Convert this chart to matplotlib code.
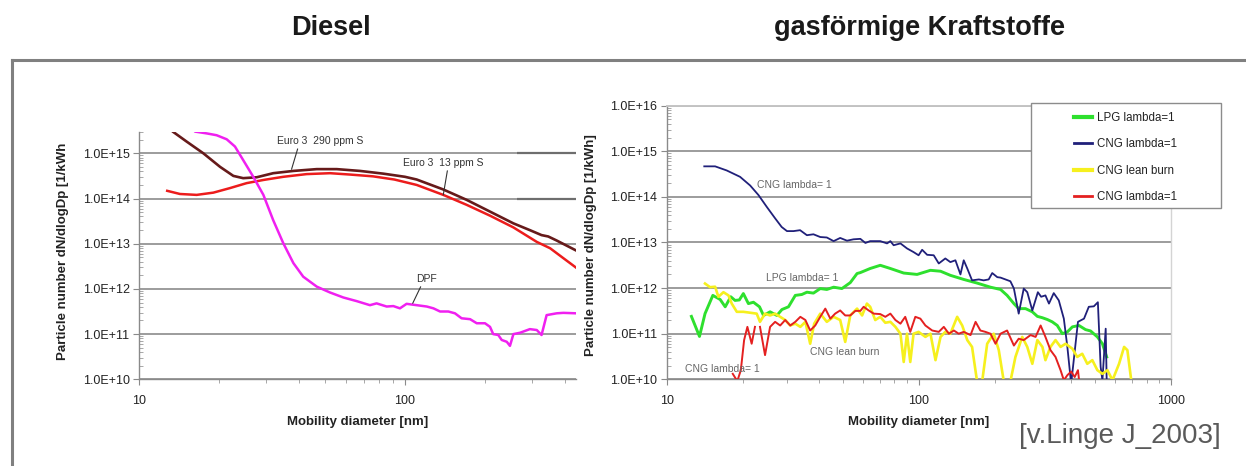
import numpy as np
import matplotlib
matplotlib.use('Agg')
import matplotlib.pyplot as plt
from matplotlib.lines import Line2D
from matplotlib.patches import Rectangle
from matplotlib.ticker import LogLocator, NullFormatter, FuncFormatter, FixedLocator

plt.rcParams['font.family'] = ['Liberation Sans', 'DejaVu Sans']

# --- Diesel: log10(diameter [nm]) and log10(dN/dlogDp [1/kWh]) ---
euro290_logd = np.array([1.110, 1.126, 1.178, 1.241, 1.304, 1.354, 1.391, 1.442, 1.504, 1.580,
                         1.668, 1.743, 1.831, 1.918, 2.000, 2.044, 2.144, 2.232, 2.320, 2.408,
                         2.470, 2.514, 2.539, 2.571, 2.644])
euro290_logn = np.array([15.58, 15.48, 15.26, 15.00, 14.70, 14.50, 14.45, 14.47, 14.56, 14.61,
                         14.65, 14.65, 14.61, 14.55, 14.48, 14.42, 14.20, 13.97, 13.71, 13.45,
                         13.30, 13.19, 13.16, 13.07, 12.85])

euro13_logd = np.array([1.105, 1.153, 1.216, 1.279, 1.341, 1.404, 1.467, 1.542, 1.630, 1.718,
                        1.793, 1.880, 1.960, 2.044, 2.144, 2.232, 2.320, 2.408, 2.496, 2.546,
                        2.596, 2.644])
euro13_logn = np.array([14.17, 14.10, 14.08, 14.13, 14.23, 14.34, 14.41, 14.48, 14.54, 14.56,
                        14.53, 14.49, 14.42, 14.30, 14.08, 13.86, 13.62, 13.36, 13.04, 12.90,
                        12.68, 12.47])

dpf_logd = np.array([1.190, 1.210, 1.254, 1.291, 1.329, 1.360, 1.391, 1.429, 1.467, 1.504,
                     1.542, 1.580, 1.617, 1.668, 1.718, 1.768, 1.818, 1.868, 1.893, 1.931,
                     1.956, 1.981, 2.006, 2.044, 2.082, 2.107, 2.132, 2.163, 2.188, 2.213,
                     2.245, 2.270, 2.301, 2.320, 2.332, 2.351, 2.364, 2.383, 2.395, 2.408,
                     2.433, 2.470, 2.496, 2.514, 2.533, 2.571, 2.596, 2.644])
dpf_logn = np.array([15.60, 15.48, 15.44, 15.40, 15.31, 15.15, 14.85, 14.48, 14.08, 13.52,
                     13.01, 12.57, 12.27, 12.05, 11.92, 11.81, 11.73, 11.64, 11.68, 11.61,
                     11.62, 11.57, 11.67, 11.64, 11.61, 11.57, 11.50, 11.50, 11.46, 11.35,
                     11.33, 11.24, 11.24, 11.16, 11.00, 10.98, 10.87, 10.83, 10.74, 11.00,
                     11.03, 11.11, 11.09, 10.98, 11.42, 11.46, 11.47, 11.46])

# --- gaseous fuels ---
lpg_logd = np.array([1.098, 1.130, 1.152, 1.183, 1.212, 1.232, 1.254, 1.271, 1.288, 1.304,
                     1.324, 1.344, 1.368, 1.384, 1.410, 1.437, 1.457, 1.483, 1.510, 1.536,
                     1.556, 1.582, 1.609, 1.635, 1.662, 1.695, 1.728, 1.755, 1.768, 1.807,
                     1.847, 1.887, 1.940, 1.993, 2.046, 2.086, 2.125, 2.178, 2.231, 2.284,
                     2.324, 2.350, 2.377, 2.396, 2.423, 2.450, 2.470, 2.490, 2.510, 2.529,
                     2.549, 2.569, 2.589, 2.609, 2.635, 2.661, 2.681, 2.708, 2.728, 2.745])
lpg_logn = np.array([11.38, 10.94, 11.44, 11.84, 11.75, 11.59, 11.81, 11.73, 11.74, 11.88,
                     11.66, 11.69, 11.59, 11.40, 11.48, 11.40, 11.53, 11.59, 11.84, 11.86,
                     11.91, 11.89, 11.99, 11.97, 12.02, 11.99, 12.12, 12.32, 12.34, 12.43,
                     12.50, 12.43, 12.33, 12.30, 12.39, 12.37, 12.28, 12.19, 12.11, 12.02,
                     11.97, 11.84, 11.66, 11.55, 11.55, 11.48, 11.38, 11.35, 11.31, 11.26,
                     11.18, 11.00, 11.04, 11.15, 11.18, 11.09, 11.06, 10.93, 10.78, 10.49])

cng_logd = np.array([1.149, 1.192, 1.238, 1.291, 1.331, 1.364, 1.397, 1.430, 1.456, 1.477,
                     1.503, 1.529, 1.556, 1.582, 1.609, 1.635, 1.662, 1.688, 1.715, 1.741,
                     1.768, 1.788, 1.807, 1.847, 1.874, 1.887, 1.900, 1.927, 1.953, 1.979,
                     1.999, 2.013, 2.033, 2.059, 2.079, 2.105, 2.125, 2.145, 2.165, 2.178,
                     2.192, 2.211, 2.238, 2.257, 2.277, 2.291, 2.311, 2.324, 2.363, 2.377,
                     2.396, 2.416, 2.430, 2.450, 2.472, 2.485, 2.502, 2.516, 2.535, 2.555,
                     2.575, 2.589, 2.604, 2.631, 2.655, 2.674, 2.694, 2.710, 2.721, 2.728,
                     2.741, 2.745])
cng_logn = np.array([14.67, 14.67, 14.58, 14.44, 14.25, 14.04, 13.78, 13.53, 13.34, 13.25,
                     13.25, 13.27, 13.16, 13.18, 13.12, 13.11, 13.03, 13.10, 13.04, 13.07,
                     13.08, 12.99, 13.03, 13.03, 12.98, 13.03, 12.94, 12.98, 12.87, 12.79,
                     12.72, 12.84, 12.73, 12.72, 12.54, 12.65, 12.57, 12.61, 12.30, 12.61,
                     12.43, 12.17, 12.19, 12.17, 12.19, 12.33, 12.24, 12.23, 12.15, 11.99,
                     11.44, 11.99, 11.91, 11.51, 11.91, 11.81, 11.84, 11.66, 11.89, 11.73,
                     11.33, 10.71, 9.90, 11.26, 11.33, 11.59, 11.60, 11.69, 10.27, 9.98,
                     11.11, 9.95])

lean_logd = np.array([1.152, 1.172, 1.192, 1.205, 1.225, 1.245, 1.258, 1.278, 1.304, 1.331,
                      1.357, 1.370, 1.390, 1.410, 1.430, 1.450, 1.470, 1.490, 1.510, 1.530,
                      1.550, 1.569, 1.585, 1.609, 1.635, 1.662, 1.688, 1.708, 1.728, 1.755,
                      1.775, 1.794, 1.807, 1.827, 1.847, 1.867, 1.887, 1.907, 1.927, 1.940,
                      1.953, 1.966, 1.979, 1.999, 2.026, 2.046, 2.066, 2.086, 2.105, 2.125,
                      2.152, 2.172, 2.192, 2.211, 2.231, 2.251, 2.271, 2.297, 2.317, 2.337,
                      2.363, 2.383, 2.410, 2.430, 2.450, 2.470, 2.490, 2.502, 2.522, 2.542,
                      2.562, 2.582, 2.609, 2.628, 2.648, 2.668, 2.688, 2.708, 2.728, 2.748,
                      2.768, 2.794, 2.814, 2.827, 2.843])
lean_logn = np.array([12.10, 12.02, 12.03, 11.81, 11.91, 11.84, 11.66, 11.48, 11.48, 11.46,
                      11.44, 11.26, 11.44, 11.40, 11.44, 11.37, 11.30, 11.18, 11.22, 11.15,
                      11.26, 10.78, 11.22, 11.44, 11.26, 11.37, 11.30, 10.82, 11.40, 11.55,
                      11.40, 11.66, 11.59, 11.30, 11.37, 11.24, 11.26, 11.15, 11.00, 10.38,
                      11.00, 10.38, 11.00, 11.04, 10.93, 11.00, 10.42, 10.93, 11.04, 11.00,
                      11.37, 11.18, 10.86, 10.71, 9.95, 9.95, 10.78, 11.00, 10.64, 9.95,
                      9.95, 10.49, 10.93, 10.71, 10.34, 10.86, 10.71, 10.42, 10.71, 10.86,
                      10.71, 10.78, 10.67, 10.49, 10.56, 10.34, 10.42, 10.20, 10.12, 10.20,
                      9.98, 10.34, 10.71, 10.64, 9.95])

# nan = gap in the measurement
cngr_logd = np.array([1.262, 1.280, 1.294, 1.307, 1.320, 1.337, 1.350, 1.360, 1.370, 1.390,
                      1.410, 1.430, 1.450, 1.470, 1.490, 1.510, 1.530, 1.550, 1.569, 1.589,
                      1.609, 1.629, 1.649, 1.668, 1.688, 1.708, 1.728, 1.748, 1.768, 1.781,
                      1.801, 1.821, 1.847, 1.867, 1.887, 1.907, 1.927, 1.946, 1.966, 1.986,
                      2.006, 2.026, 2.053, 2.079, 2.099, 2.119, 2.139, 2.158, 2.178, 2.205,
                      2.225, 2.244, 2.264, 2.284, 2.304, 2.324, 2.350, 2.377, 2.396, 2.416,
                      2.443, 2.463, 2.483, 2.502, 2.522, 2.542, 2.562, 2.575, 2.589, 2.604,
                      2.618, 2.631, 2.636])
cngr_logn = np.array([10.12, 9.96, 10.20, 10.86, 11.15, 10.78, 11.15, np.nan, 11.15, 10.53,
                      11.15, 11.26, 11.18, 11.30, 11.18, 11.26, 11.37, 11.30, 11.07, 11.18,
                      11.37, 11.55, 11.33, 11.44, 11.51, 11.40, 11.40, 11.50, 11.50, 11.59,
                      11.51, 11.44, 11.43, 11.37, 11.44, 11.30, 11.22, 11.37, 11.04, 11.37,
                      11.33, 11.18, 11.07, 11.04, 11.15, 11.00, 11.07, 11.00, 11.04, 10.97,
                      11.26, 11.07, 11.04, 11.00, 10.78, 11.00, 11.07, 10.74, 10.89, 10.86,
                      10.97, 10.93, 11.18, 10.93, 10.64, 10.49, 10.20, 9.98, 10.09, 10.17,
                      10.05, 10.20, 9.95])

legend_labels = ['LPG lambda=1', 'CNG lambda=1', 'CNG lean burn', 'CNG lambda=1']

W, H = 1246, 466
def fx(px):
    return px / W
def fy(py):
    return 1 - py / H

fig = plt.figure(figsize=(W / 100, H / 100), dpi=100)

# slide frame and headings
fig.add_artist(Line2D([fx(12), 1], [fy(60), fy(60)], color='#808080', lw=2.2))
fig.add_artist(Line2D([fx(12), fx(12)], [0, fy(60)], color='#808080', lw=2.2))
fig.text(fx(331), fy(28), 'Diesel', ha='center', va='center', fontsize=19.5,
         fontweight='bold', color='#1a1a1a')
fig.text(fx(920), fy(28), 'gasförmige Kraftstoffe', ha='center', va='center',
         fontsize=19.5, fontweight='bold', color='#1a1a1a')
fig.text(fx(1120), fy(436), '[v.Linge J_2003]', ha='center', va='center',
         fontsize=20, color='#5a5a5a')


def sci(v, pos):
    return f'{v:.1E}'


def style_axis(ax, xmax, ymax_exp):
    ax.set_xscale('log')
    ax.set_yscale('log')
    ax.set_axisbelow(True)
    ax.yaxis.set_major_locator(FixedLocator([10.0 ** e for e in range(10, ymax_exp + 1)]))
    ax.yaxis.set_major_formatter(FuncFormatter(sci))
    ax.yaxis.set_minor_locator(LogLocator(base=10, subs=np.arange(2, 10), numticks=20))
    ax.yaxis.set_minor_formatter(NullFormatter())
    ax.xaxis.set_major_locator(FixedLocator([t for t in (10, 100, 1000) if t <= xmax]))
    ax.xaxis.set_major_formatter(FuncFormatter(lambda v, p: f'{v:.0f}'))
    ax.xaxis.set_minor_locator(LogLocator(base=10, subs=np.arange(2, 10), numticks=20))
    ax.xaxis.set_minor_formatter(NullFormatter())
    ax.grid(True, axis='y', which='major', color='#9c9c9c', lw=1.4)
    for s in ('left', 'bottom'):
        ax.spines[s].set_color('#8a8a8a')
        ax.spines[s].set_linewidth(1.0)
    ax.tick_params(axis='both', which='major', labelsize=9, colors='#8a8a8a',
                   labelcolor='#222222', length=4, width=0.8, pad=3)
    ax.tick_params(axis='x', which='major', pad=7)
    ax.tick_params(axis='y', which='minor', direction='in', length=3, width=0.6, colors='#9a9a9a')
    ax.tick_params(axis='x', which='minor', direction='out', length=3, width=0.6, colors='#9a9a9a')
    ax.set_xlabel('Mobility diameter [nm]', fontsize=9.5, fontweight='bold',
                  color='#222222', labelpad=7)


# ---------------- Diesel ----------------
ax1 = fig.add_axes([fx(139.3), fy(379.3), (576 - 139.3) / W, (379.3 - 131.7) / H])
style_axis(ax1, 440, 15)
ax1.set_xlim(10, 10 ** 2.6436)
ax1.set_ylim(1e10, 10 ** 15.478)
ax1.spines['top'].set_visible(False)
ax1.spines['right'].set_visible(False)
ax1.hlines([1e15, 1e14], 264, 10 ** 2.6436, color='#6e6e6e', lw=1.6, zorder=1)

ax1.plot(10 ** euro290_logd, 10 ** euro290_logn, color='#661a1a', lw=1.9, zorder=3)
ax1.plot(10 ** euro13_logd, 10 ** euro13_logn, color='#ec1c1c', lw=1.8, zorder=3)
ax1.plot(10 ** dpf_logd, 10 ** dpf_logn, color='#f020f0', lw=1.8, zorder=3)

lead = dict(arrowstyle='-', color='#333333', lw=0.8, shrinkA=0, shrinkB=0)
ax1.annotate('Euro 3  290 ppm S', xy=(10 ** 1.573, 10 ** 14.646), xytext=(47.9, 1.86e15),
             ha='center', va='center', fontsize=7.5, color='#333333',
             arrowprops=dict(lead, relpos=(0.25, 0.0)))
ax1.annotate('Euro 3  13 ppm S', xy=(10 ** 2.144, 10 ** 14.077), xytext=(139, 6.1e14),
             ha='center', va='center', fontsize=7.5, color='#333333',
             arrowprops=dict(lead, relpos=(0.56, 0.0)))
ax1.annotate('DPF', xy=(10 ** 2.029, 10 ** 11.681), xytext=(121, 1.66e12),
             ha='center', va='center', fontsize=7.5, color='#333333',
             arrowprops=dict(lead, relpos=(0.26, 0.0)))

fig.text(fx(63), fy(360), 'Particle number dN/dlogDp [1/kWh', rotation=90,
         ha='center', va='bottom', fontsize=9.5, fontweight='bold', color='#222222')

# ---------------- gasförmige Kraftstoffe ----------------
ax2 = fig.add_axes([fx(666.7), fy(379.3), (1171 - 666.7) / W, (379.3 - 105.7) / H])
style_axis(ax2, 1000, 16)
ax2.set_xlim(10, 1000)
ax2.set_ylim(1e10, 1e16)
ax2.spines['top'].set_color('#c4c4c4')
ax2.spines['top'].set_linewidth(1.4)
ax2.spines['right'].set_color('#d4d4d4')
ax2.spines['right'].set_linewidth(1.0)

l_lpg, = ax2.plot(10 ** lpg_logd, 10 ** lpg_logn, color='#2ee02e', lw=2.1, zorder=3)
l_cng, = ax2.plot(10 ** cng_logd, 10 ** cng_logn, color='#20207a', lw=1.3, zorder=3)
l_lean, = ax2.plot(10 ** lean_logd, 10 ** lean_logn, color='#f6f01e', lw=1.9, zorder=3)
l_cngr, = ax2.plot(10 ** cngr_logd, 10 ** cngr_logn, color='#e42020', lw=1.4, zorder=3)

note = dict(ha='center', va='center', fontsize=7.5, color='#666666')
ax2.text(32.0, 1.82e14, 'CNG lambda= 1', **note)
ax2.text(34.4, 1.64e12, 'LPG lambda= 1', **note)
ax2.text(51.0, 3.97e10, 'CNG lean burn', **note)
ax2.text(16.7, 1.66e10, 'CNG lambda= 1', **note)

ax2.add_patch(Rectangle((fx(1031), fy(208)), 190 / W, 105 / H, transform=fig.transFigure,
                        facecolor='white', edgecolor='#8c8c8c', lw=1.0, zorder=4,
                        clip_on=False))
handles = [Line2D([], [], color=l_lpg.get_color(), lw=3.0),
           Line2D([], [], color=l_cng.get_color(), lw=2.0),
           Line2D([], [], color=l_lean.get_color(), lw=3.0),
           Line2D([], [], color=l_cngr.get_color(), lw=2.0)]
ax2.legend(handles, legend_labels, loc='upper left', bbox_to_anchor=(fx(1074), fy(112)),
           bbox_transform=fig.transFigure, frameon=False, fontsize=8.3,
           handlelength=1.6, handletextpad=0.4, labelspacing=1.25, borderpad=0,
           borderaxespad=0, labelcolor='#222222')

fig.text(fx(591), fy(245), 'Particle number dN/dlogDp [1/kWh]', rotation=90,
         ha='center', va='center', fontsize=9.5, fontweight='bold', color='#222222')

fig.savefig('out.png', dpi=100)
